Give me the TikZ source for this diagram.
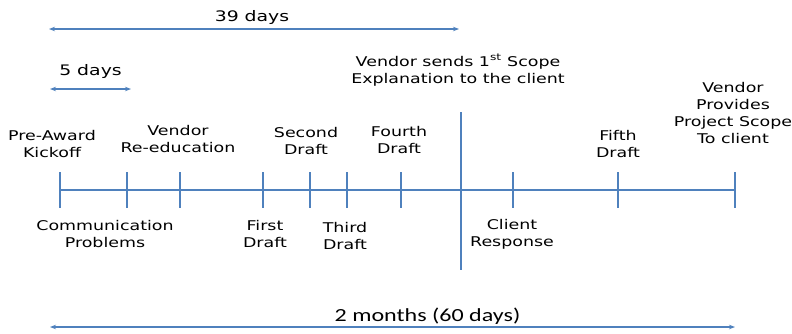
\documentclass[tikz,border=0pt]{standalone}
\usepackage{fontspec}
\setmainfont{DejaVu Sans}[FakeStretch=1.3]
\newfontfamily\calfont{Carlito}[FakeStretch=1.3]
\usetikzlibrary{arrows.meta}
\definecolor{lineblue}{RGB}{79,129,189}

\begin{document}
\begin{tikzpicture}[x=1pt,y=-1pt,
    tl/.style={lineblue,line width=2.6pt},
    span/.style={lineblue,line width=1.5pt,{Stealth[length=6pt,width=4.5pt]}-{Stealth[length=6pt,width=4.5pt]}},
    lbl/.style={align=center,inner sep=0pt,font=\fontsize{13.4}{17}\selectfont},
    big/.style={inner sep=0pt,font=\fontsize{14.5}{17}\selectfont}]

    \useasboundingbox (0,0) rectangle (792,333);

    % the time line and its ticks
    \foreach \name/\x in {kick/60, comm/127, reedu/180, dA/263, dB/310, dC/347, dD/401, resp/513, dE/618, done/735}
    {
        \coordinate (\name) at (\x,190);
        \draw[tl] (\x,172) -- (\x,208);
    }
    \draw[tl] (kick) -- (done);

    % first scope explanation
    \coordinate (sendtop) at (461,112);
    \coordinate (sendbot) at (461,270);
    \draw[tl] (sendtop) -- (sendbot);

    % labels above
    \node[lbl] (kickoff) at (52,144) {Pre-Award\\Kickoff};
    \node[lbl] (reeducation) at (178,138.5) {Vendor\\Re-education};
    \node[lbl] (drafttwo) at (306,141) {Second\\Draft};
    \node[lbl] (draftfour) at (399,140) {Fourth\\Draft};
    \node[lbl] (draftfive) at (618,144) {Fifth\\Draft};
    \node[lbl] (provides) at (733,113) {Vendor\\Provides\\Project Scope\\To client};
    \node[lbl] (scopesent) at (458,70) {Vendor sends 1\textsuperscript{st} Scope\\Explanation to the client};

    % labels below
    \node[lbl] (commprob) at (105,234) {Communication\\Problems};
    \node[lbl] (draftone) at (265,234) {First\\Draft};
    \node[lbl] (draftthree) at (345,236) {Third\\Draft};
    \node[lbl] (response) at (512,234) {Client\\Response};

    % durations
    \coordinate (fiveA) at (50,89);
    \coordinate (fiveB) at (131,89);
    \draw[span] (fiveA) -- (fiveB);
    \node[big] (fivedays) at (90.5,71) {5 days};

    \coordinate (ninerA) at (49,29);
    \coordinate (ninerB) at (459,29);
    \draw[span] (ninerA) -- (ninerB);
    \node[big] (ninerdays) at (252,17.5) {39 days};

    \coordinate (allA) at (50,327);
    \coordinate (allB) at (735,327);
    \draw[span] (allA) -- (allB);
    \node[inner sep=0pt,font=\calfont\fontsize{18.5}{20}\selectfont] (total) at (427.5,316) {2 months (60 days)};
\end{tikzpicture}
\end{document}
